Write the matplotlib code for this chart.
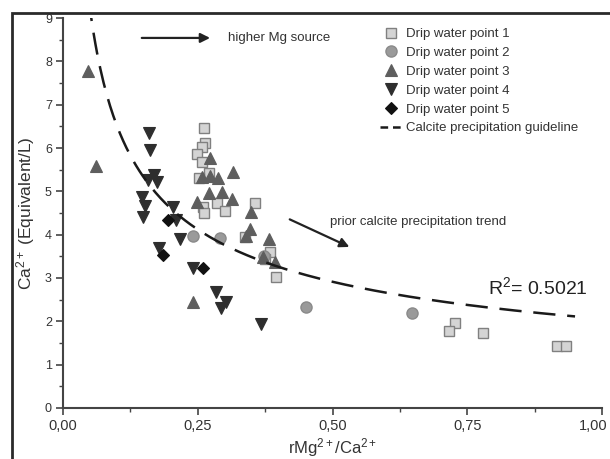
import numpy as np
import matplotlib
matplotlib.use("Agg")
import matplotlib.pyplot as plt
import matplotlib.transforms as mtransforms
from matplotlib.lines import Line2D
from matplotlib.patches import Rectangle

plt.rcParams['font.family'] = ['Liberation Sans', 'DejaVu Sans']
plt.rcParams['mathtext.fontset'] = 'custom'
plt.rcParams['mathtext.rm'] = 'Liberation Sans'
plt.rcParams['mathtext.it'] = 'Liberation Sans:italic'
plt.rcParams['lines.scale_dashes'] = False

# Drip water point 1 (squares)
x1 = [0.262, 0.263, 0.258, 0.248, 0.257, 0.270, 0.252, 0.285, 0.259, 0.300, 0.262,
      0.356, 0.338, 0.384, 0.375, 0.395, 0.727, 0.717, 0.779, 0.917, 0.934]
y1 = [6.46, 6.12, 6.02, 5.86, 5.68, 5.42, 5.30, 4.74, 4.65, 4.55, 4.49,
      4.72, 3.95, 3.61, 3.45, 3.02, 1.97, 1.78, 1.72, 1.43, 1.43]
# Drip water point 2 (circles)
x2 = [0.242, 0.291, 0.372, 0.451, 0.648]
y2 = [3.97, 3.92, 3.50, 2.32, 2.20]
# Drip water point 3 (up triangles)
x3 = [0.047, 0.061, 0.273, 0.316, 0.257, 0.273, 0.288, 0.271, 0.295, 0.313, 0.249,
      0.348, 0.347, 0.383, 0.393, 0.242, 0.371, 0.340]
y3 = [7.78, 5.58, 5.78, 5.45, 5.32, 5.36, 5.30, 4.97, 4.98, 4.82, 4.76,
      4.53, 4.12, 3.89, 3.38, 2.45, 3.48, 3.97]
# Drip water point 4 (down triangles)
x4 = [0.159, 0.161, 0.168, 0.158, 0.175, 0.146, 0.152, 0.148, 0.204, 0.209,
      0.178, 0.217, 0.241, 0.284, 0.302, 0.294, 0.367]
y4 = [6.34, 5.96, 5.38, 5.26, 5.22, 4.87, 4.66, 4.41, 4.63, 4.33,
      3.70, 3.90, 3.22, 2.68, 2.45, 2.30, 1.94]
# Drip water point 5 (diamonds)
x5 = [0.194, 0.186, 0.260]
y5 = [4.34, 3.53, 3.22]

# Calcite precipitation guideline: y = a * x^b
fit_a = 2.06
fit_b = -0.5
fit_x_range = (0.045, 0.95)
r2_text = "R$^2$= 0.5021"

xticks = [0.0, 0.25, 0.5, 0.75, 1.0]
xticklabels = ["0,00", "0,25", "0,50", "0,75", "1,00"]
yticks = [0, 1, 2, 3, 4, 5, 6, 7, 8, 9]

W, H = 610, 459
fig = plt.figure(figsize=(W / 100, H / 100), dpi=100)
ax = fig.add_axes([63 / W, (H - 408) / H, (602 - 63) / W, (408 - 18) / H])

txt_col = '#333333'
ms = 8
ax.plot(x1, y1, ls='none', marker='s', ms=7, mfc='#d4d4d4', mec='#808080', mew=1.0,
        label='Drip water point 1', zorder=3)
ax.plot(x2, y2, ls='none', marker='o', ms=8, mfc='#9a9a9a', mec='#8a8a8a', mew=1.0,
        label='Drip water point 2', zorder=3)
ax.plot(x3, y3, ls='none', marker='^', ms=ms, mfc='#5e5e5e', mec='#5e5e5e', mew=0.8,
        label='Drip water point 3', zorder=3)
ax.plot(x4, y4, ls='none', marker='v', ms=ms, mfc='#2e2e2e', mec='#2e2e2e', mew=0.8,
        label='Drip water point 4', zorder=3)
ax.plot(x5, y5, ls='none', marker='D', ms=6.5, mfc='#111111', mec='#111111', mew=0.8,
        label='Drip water point 5', zorder=3)

xc = np.linspace(fit_x_range[0], fit_x_range[1], 300)
ax.plot(xc, fit_a * xc ** fit_b, color='#1a1a1a', lw=1.8, dashes=(16, 8.5), zorder=4)

handles, labels = ax.get_legend_handles_labels()
handles.append(Line2D([], [], color='#1a1a1a', lw=1.8, dashes=(5.5, 3.5)))
labels.append('Calcite precipitation guideline')
leg = ax.legend(handles, labels, loc='upper left',
                bbox_to_anchor=(380 / W, (H - 28) / H), bbox_transform=fig.transFigure,
                frameon=False, fontsize=9.5, handlelength=1.6, handletextpad=0.4,
                labelspacing=0.5, borderpad=0, borderaxespad=0)
for t in leg.get_texts():
    t.set_color(txt_col)

# annotations
ax.annotate('', xy=(0.278, 8.54), xytext=(0.141, 8.54),
            arrowprops=dict(arrowstyle='-|>', lw=1.6, color='#222222', mutation_scale=14))
ax.text(0.306, 8.54, 'higher Mg source', fontsize=9.5, color=txt_col, va='center', ha='left')
ax.annotate('', xy=(0.536, 3.69), xytext=(0.416, 4.38),
            arrowprops=dict(arrowstyle='-|>', lw=1.6, color='#222222', mutation_scale=14))
ax.text(0.495, 4.29, 'prior calcite precipitation trend', fontsize=9.5, color=txt_col,
        va='center', ha='left')
ax.text(0.789, 2.79, r2_text, fontsize=14, color='#222222', va='center', ha='left')

ax.set_xlim(0, 1.0)
ax.set_ylim(0, 9)
ax.set_xticks(xticks)
ax.set_xticklabels(xticklabels)
ax.set_yticks(yticks)
ax.set_xticks(np.arange(0.125, 1.0, 0.25), minor=True)
ax.set_yticks(np.arange(0.5, 9.0, 1.0), minor=True)
for s in ['top', 'right']:
    ax.spines[s].set_visible(False)
for s in ['left', 'bottom']:
    ax.spines[s].set_color('#444444')
    ax.spines[s].set_linewidth(1.5)
ax.tick_params(which='major', direction='out', length=5, width=1.2, color='#444444')
ax.tick_params(which='minor', direction='out', length=3, width=1.0, color='#444444')
ax.tick_params(axis='x', labelsize=10.5, labelcolor=txt_col, pad=3)
ax.tick_params(axis='y', labelsize=9, labelcolor=txt_col, pad=3)

# keep the last x tick label inside the figure edge
last_lbl = ax.get_xticklabels()[-1]
last_lbl.set_transform(last_lbl.get_transform() +
                       mtransforms.ScaledTranslation(-9 / 100, 0, fig.dpi_scale_trans))

ax.set_ylabel('Ca$^{2+}$ (Equivalent/L)', fontsize=12.5, color=txt_col, labelpad=6)
ax.set_xlabel('rMg$^{2+}$/Ca$^{2+}$', fontsize=12, color=txt_col, labelpad=2)

# outer frame around the panel
fig.add_artist(Rectangle((12 / W, -0.2), 1.5, (H - 13) / H + 0.2, transform=fig.transFigure,
                         fill=False, ec='#2a2a2a', lw=2.0))

fig.savefig('out.png', dpi=100)
